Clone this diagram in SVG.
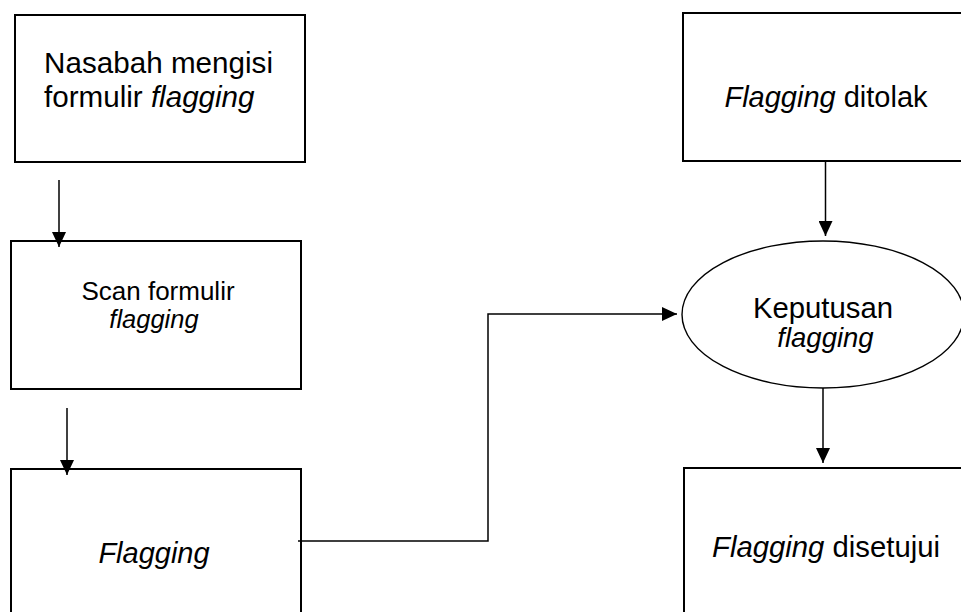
<svg xmlns="http://www.w3.org/2000/svg" width="961" height="612" viewBox="0 0 961 612">
<defs>
<style>
.box{fill:#fff;stroke:#000;stroke-width:2}
.ell{fill:#fff;stroke:#000;stroke-width:1.4}
.t{font-family:"Liberation Sans",Arial,sans-serif;fill:#000}
.i{font-style:italic}
.c{fill:none;stroke:#000;stroke-width:1.5}
</style>
<marker id="ah" markerUnits="userSpaceOnUse" markerWidth="16" markerHeight="14" refX="15" refY="7" orient="auto">
<path d="M0,0 L15,7 L0,14 Z" fill="#000"/>
</marker>
</defs>
<rect width="961" height="612" fill="#fff"/>
<g id="n1">
<rect class="box" x="15" y="15" width="290" height="147"/>
<text class="t" x="44" y="73" font-size="29.6" textLength="229" lengthAdjust="spacing">Nasabah mengisi</text>
<text class="t" x="44" y="107" font-size="29.6">formulir <tspan class="i">flagging</tspan></text>
</g>
<g id="n2">
<rect class="box" x="11" y="241" width="290" height="148"/>
<text class="t" x="158" y="300" font-size="26" text-anchor="middle">Scan formulir</text>
<text class="t i" x="154" y="328" font-size="25.5" text-anchor="middle">flagging</text>
</g>
<g id="n3">
<rect class="box" x="11" y="469" width="290" height="160"/>
<text class="t i" x="154" y="563" font-size="29" text-anchor="middle">Flagging</text>
</g>
<g id="n4">
<rect class="box" x="683" y="13" width="300" height="148"/>
<text class="t" x="826" y="107" font-size="29" text-anchor="middle"><tspan class="i">Flagging</tspan> ditolak</text>
</g>
<g id="n5">
<ellipse class="ell" cx="823" cy="314.5" rx="141" ry="73.5"/>
<text class="t" x="823" y="318" font-size="29.3" text-anchor="middle">Keputusan</text>
<text class="t i" x="825.5" y="347" font-size="27.5" text-anchor="middle">flagging</text>
</g>
<g id="n6">
<rect class="box" x="684" y="468" width="300" height="160"/>
<text class="t" x="826" y="557" font-size="29.3" text-anchor="middle"><tspan class="i">Flagging</tspan> disetujui</text>
</g>
<g id="connectors">
<line class="c" x1="59" y1="180" x2="59" y2="247" marker-end="url(#ah)"/>
<line class="c" x1="67" y1="408" x2="67" y2="475" marker-end="url(#ah)"/>
<polyline class="c" points="298,541 488,541 488,314 677,314" marker-end="url(#ah)"/>
<line class="c" x1="825.5" y1="161" x2="825.5" y2="236" marker-end="url(#ah)"/>
<line class="c" x1="823" y1="388" x2="823" y2="463" marker-end="url(#ah)"/>
</g>
</svg>
